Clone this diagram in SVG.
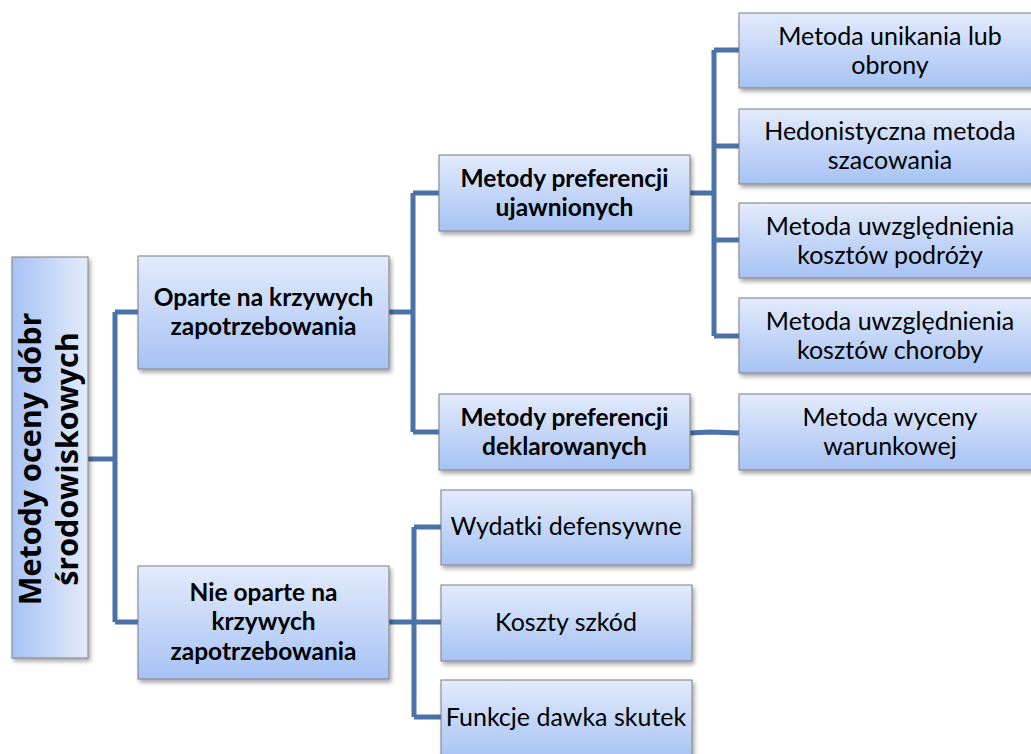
<svg xmlns="http://www.w3.org/2000/svg" width="1031" height="754" viewBox="0 0 1031 754">
<defs>
<linearGradient id="g" x1="0" y1="0" x2="0" y2="1">
<stop offset="0" stop-color="#e3ebfc"/>
<stop offset="1" stop-color="#a6c2f4"/>
</linearGradient>
<linearGradient id="gr" x1="0" y1="0" x2="1" y2="0">
<stop offset="0" stop-color="#a6c2f4"/>
<stop offset="1" stop-color="#e3ebfc"/>
</linearGradient>
<filter id="sh" x="-10%" y="-10%" width="130%" height="130%">
<feDropShadow dx="2" dy="3" stdDeviation="2" flood-color="#000" flood-opacity="0.35"/>
</filter>
</defs>
<style>
.box{fill:url(#g);stroke:#7f7f7f;stroke-width:1;filter:url(#sh)}
.t{font-family:Lato,"Open Sans","Liberation Sans",sans-serif;font-size:25px;fill:#000;text-anchor:middle}
.b{font-weight:bold;font-size:24.5px}
.r{font-family:"Open Sans",Lato,"Liberation Sans",sans-serif;font-weight:bold;font-size:30.5px;text-anchor:middle}
.c{fill:none;stroke:#4a72a8;stroke-width:5;stroke-linejoin:miter}
</style>
<rect width="1031" height="754" fill="#fff"/>
<g id="connectors">
<path class="c" d="M88 459H115M115 312V622M115 312H138M115 622H138"/>
<path class="c" d="M389 312H413M413 193V432M413 193H439M413 432H439"/>
<path class="c" d="M690 193H714M714 50V336M714 50H739M714 146H739M714 240H739M714 336H739"/>
<path class="c" d="M690 433L710 432L739 433"/>
<path class="c" d="M389 622H414M414 527V717M414 527H441M414 622H441M414 717H441"/>
</g>
<g id="root">
<rect class="box" x="12" y="257" width="76" height="401" style="fill:url(#gr)"/>
<text class="r" transform="translate(50 459) rotate(-90)"><tspan x="0" y="-9">Metody oceny dóbr</tspan><tspan x="0" y="28">środowiskowych</tspan></text>
</g>
<g id="n-oparte">
<rect class="box" x="138" y="256" width="251" height="113"/>
<text class="t b"><tspan x="263.5" y="306">Oparte na krzywych</tspan><tspan x="263.5" y="335">zapotrzebowania</tspan></text>
</g>
<g id="n-nieoparte">
<rect class="box" x="138" y="566" width="251" height="113"/>
<text class="t b"><tspan x="263.5" y="601">Nie oparte na</tspan><tspan x="263.5" y="630">krzywych</tspan><tspan x="263.5" y="660">zapotrzebowania</tspan></text>
</g>
<g id="n-ujawnione">
<rect class="box" x="439" y="155" width="251" height="76"/>
<text class="t b"><tspan x="564.5" y="187">Metody preferencji</tspan><tspan x="564.5" y="216">ujawnionych</tspan></text>
</g>
<g id="n-deklarowane">
<rect class="box" x="439" y="394" width="251" height="76"/>
<text class="t b"><tspan x="564.5" y="426">Metody preferencji</tspan><tspan x="564.5" y="455">deklarowanych</tspan></text>
</g>
<g id="n-unikania">
<rect class="box" x="739" y="13" width="302" height="75"/>
<text class="t"><tspan x="890" y="45">Metoda unikania lub</tspan><tspan x="890" y="74">obrony</tspan></text>
</g>
<g id="n-hedonistyczna">
<rect class="box" x="739" y="109" width="302" height="75"/>
<text class="t"><tspan x="890" y="140">Hedonistyczna metoda</tspan><tspan x="890" y="169">szacowania</tspan></text>
</g>
<g id="n-podrozy">
<rect class="box" x="739" y="203" width="302" height="75"/>
<text class="t"><tspan x="890" y="235">Metoda uwzględnienia</tspan><tspan x="890" y="264">kosztów podróży</tspan></text>
</g>
<g id="n-choroby">
<rect class="box" x="739" y="298" width="302" height="75"/>
<text class="t"><tspan x="890" y="330">Metoda uwzględnienia</tspan><tspan x="890" y="359">kosztów choroby</tspan></text>
</g>
<g id="n-warunkowa">
<rect class="box" x="739" y="394" width="302" height="76"/>
<text class="t"><tspan x="890" y="426">Metoda wyceny</tspan><tspan x="890" y="455">warunkowej</tspan></text>
</g>
<g id="n-wydatki">
<rect class="box" x="441" y="490" width="251" height="75"/>
<text class="t"><tspan x="566" y="535">Wydatki defensywne</tspan></text>
</g>
<g id="n-koszty">
<rect class="box" x="441" y="585" width="251" height="76"/>
<text class="t"><tspan x="566" y="631">Koszty szkód</tspan></text>
</g>
<g id="n-funkcje">
<rect class="box" x="441" y="680" width="251" height="80"/>
<text class="t"><tspan x="566" y="726">Funkcje dawka skutek</tspan></text>
</g>
</svg>
